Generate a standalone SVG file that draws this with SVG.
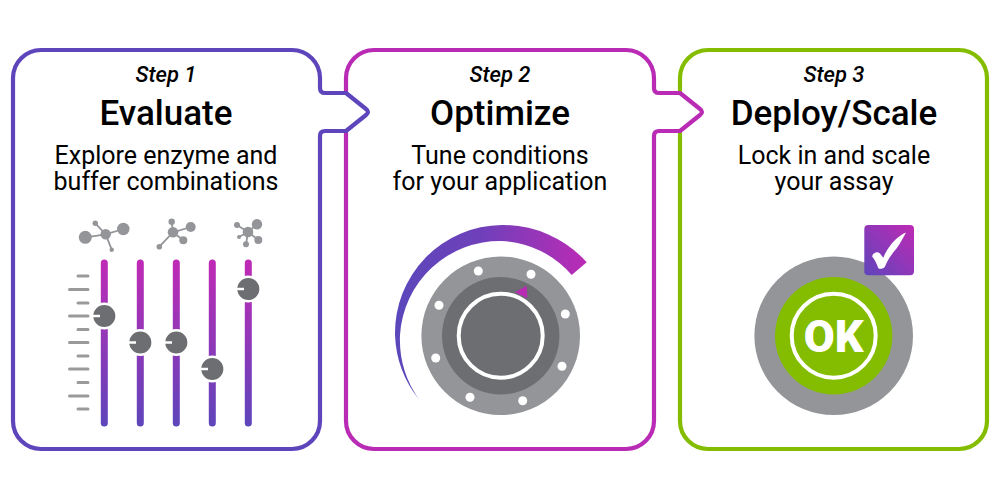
<svg xmlns="http://www.w3.org/2000/svg" width="1000" height="500" viewBox="0 0 1000 500">
<style>
text{font-family:Roboto,"Liberation Sans",sans-serif;text-anchor:middle;fill:#000}
.step{font-size:22px;font-style:italic;font-weight:500}
.title{font-size:35px;font-weight:500}
.sub{font-size:25px;font-weight:400}
.frame{fill:#fff;stroke-width:4.2;stroke-linejoin:round}
.tick{stroke:#999a9c;stroke-width:3;stroke-linecap:round}
.track{stroke:url(#gv);stroke-width:7;stroke-linecap:round}
.knob{fill:#6d6e71;stroke:#fff;stroke-width:2.5}
.notch{stroke:#fff;stroke-width:2.5}
.mol circle{fill:#939598}
.mol path{stroke:#939598;stroke-width:1.8;fill:none}
.dot{fill:#fff}
</style>
<defs>
<linearGradient id="gv" gradientUnits="userSpaceOnUse" x1="0" y1="260" x2="0" y2="426"><stop offset="0" stop-color="#c02ab5"/><stop offset="1" stop-color="#5e45bb"/></linearGradient>
<linearGradient id="gh" gradientUnits="userSpaceOnUse" x1="395" y1="0" x2="587" y2="0"><stop offset="0" stop-color="#5b47bb"/><stop offset=".45" stop-color="#6f40ba"/><stop offset="1" stop-color="#bb2bb5"/></linearGradient>
<linearGradient id="gd" gradientUnits="userSpaceOnUse" x1="864" y1="275" x2="914" y2="225"><stop offset="0" stop-color="#5e45bb"/><stop offset="1" stop-color="#bf2ab5"/></linearGradient>
</defs>
<g id="panel-3">
<path class="frame" stroke="#84bd00" d="M680 93V78A28 28 0 0 1 708 50H959A28 28 0 0 1 987 78V421A28 28 0 0 1 959 449H708A28 28 0 0 1 680 421V131"/>
<text class="step" x="834" y="81.500">Step 3</text>
<text class="title" x="834" y="124.700">Deploy/Scale</text>
<text class="sub" x="834" y="163.700">Lock in and scale</text>
<text class="sub" x="834" y="190.300">your assay</text>
<circle cx="833.700" cy="335.700" r="79.300" fill="#939598"/>
<circle cx="833.700" cy="335.700" r="58.700" fill="#84bd00"/>
<circle cx="833.700" cy="335.700" r="42" fill="#84bd00" stroke="#fff" stroke-width="4"/>
<text x="833.700" y="352" style="font-size:45px;font-weight:900;fill:#fff">OK</text>
<rect x="864.300" y="225" width="49.700" height="50.300" rx="4" fill="url(#gd)"/>
<path fill="#fff" d="M906 232.500C900 235 893 241 888.300 248.300C886 251.500 884.500 255 883.300 257.700C881 255 879.500 252 876.700 252.300C874.500 252.500 872 254.500 872.300 256.700C875 260 877 264 878.300 268.300C880 269.500 884 268.500 885 266.500C888 259 892 254 896.700 248.300C900 244 903 238 906 232.500Z"/>
</g>
<g id="panel-2">
<path class="frame" stroke="#b92bb5" d="M346 93V78A28 28 0 0 1 374 50H626A28 28 0 0 1 654 78V88Q654 93 659 93H680L700 109Q704 112 700 115L680 131H659Q654 131 654 136V421A28 28 0 0 1 626 449H374A28 28 0 0 1 346 421V131"/>
<text class="step" x="500" y="81.500">Step 2</text>
<text class="title" x="500" y="124.700">Optimize</text>
<text class="sub" x="500" y="163.700">Tune conditions</text>
<text class="sub" x="500" y="190.300">for your application</text>
<path fill="url(#gh)" d="M419 399.500A110 110 0 0 1 395 335A108 108 0 0 1 501.700 225A112 112 0 0 1 586.700 262.300L571.700 275A98 98 0 0 0 501.700 241A100 100 0 0 0 400 335A104 104 0 0 0 419 399.500Z"/>
<circle cx="500.700" cy="335.700" r="79.300" fill="#939598"/>
<circle cx="500.700" cy="335.700" r="58.700" fill="#6d6e71"/>
<circle cx="500.700" cy="335.700" r="42" fill="#6d6e71" stroke="#fff" stroke-width="4"/>
<g class="dot"><circle cx="478.300" cy="271" r="4.500"/><circle cx="531" cy="274.300" r="4.500"/><circle cx="565.300" cy="314" r="4.500"/><circle cx="562" cy="366.300" r="4.500"/><circle cx="522.700" cy="400.700" r="4.500"/><circle cx="470" cy="397.300" r="4.500"/><circle cx="435.700" cy="358" r="4.500"/><circle cx="439" cy="305.300" r="4.500"/></g>
<path fill="#b92bb5" d="M515 292.300L526.700 285.700L527.300 298.300Z"/>
</g>
<g id="panel-1">
<path class="frame" stroke="#5f45bb" d="M41 50H292A28 28 0 0 1 320 78V88Q320 93 325 93H346L366 109Q370 112 366 115L346 131H325Q320 131 320 136V421A28 28 0 0 1 292 449H41A28 28 0 0 1 13 421V78A28 28 0 0 1 41 50Z"/>
<text class="step" x="166" y="81.500">Step 1</text>
<text class="title" x="166" y="124.700">Evaluate</text>
<text class="sub" x="166" y="163.700">Explore enzyme and</text>
<text class="sub" x="166" y="190.300">buffer combinations</text>
<g id="ticks">
<path class="tick" d="M78 276H88M69.500 289.500H88M78 303H88M69.500 316H88M78 329.500H88M69.500 342.500H88M78 356H88M69.500 369H88M78 382.500H88M69.500 396H88M78 409H88"/>
</g>
<g id="sliders">
<path class="track" d="M104.300 263V423M140.300 263V423M176.300 263V423M212.300 263V423M248.300 263V423"/>
<circle class="knob" cx="104.300" cy="316" r="12.300"/><path class="notch" d="M93 316H100"/>
<circle class="knob" cx="140.300" cy="342.500" r="12.300"/><path class="notch" d="M129 342.500H136"/>
<circle class="knob" cx="176.300" cy="342.500" r="12.300"/><path class="notch" d="M165 342.500H172"/>
<circle class="knob" cx="212.300" cy="369" r="12.300"/><path class="notch" d="M201 369H208"/>
<circle class="knob" cx="248.300" cy="289" r="12.300"/><path class="notch" d="M237 289H244"/>
</g>
<g class="mol" id="molecule-1">
<path d="M85.300 237.300L105.700 234.300L123.300 229M105.700 234.300L95.300 223.300M105.700 234.300L111.700 249.700"/>
<circle cx="85.300" cy="237.300" r="6.500"/><circle cx="123.300" cy="229" r="6.200"/><circle cx="105.700" cy="234.300" r="5.200"/><circle cx="95.300" cy="223.300" r="2.700"/><circle cx="111.700" cy="249.700" r="2.200"/>
</g>
<g class="mol" id="molecule-2">
<path d="M173 232.300L171.700 221.700M173 232.300L190.700 227M173 232.300L183.300 240.300M173 232.300L159.300 246.700"/>
<circle cx="173" cy="232.300" r="5.300"/><circle cx="171.700" cy="221.700" r="3.200"/><circle cx="190.700" cy="227" r="5"/><circle cx="183.300" cy="240.300" r="4"/><circle cx="159.300" cy="246.700" r="2.800"/>
</g>
<g class="mol" id="molecule-3">
<path d="M248 232L257 224.300M248 232L237 225M248 232L258.300 240M248 232L246 244.300M248 232L239 237"/>
<circle cx="248" cy="232" r="5.300"/><circle cx="257" cy="224.300" r="5.200"/><circle cx="237" cy="225" r="3"/><circle cx="258.300" cy="240" r="4"/><circle cx="246" cy="244.300" r="3"/><circle cx="239" cy="237" r="2"/>
</g>
</g>
</svg>
